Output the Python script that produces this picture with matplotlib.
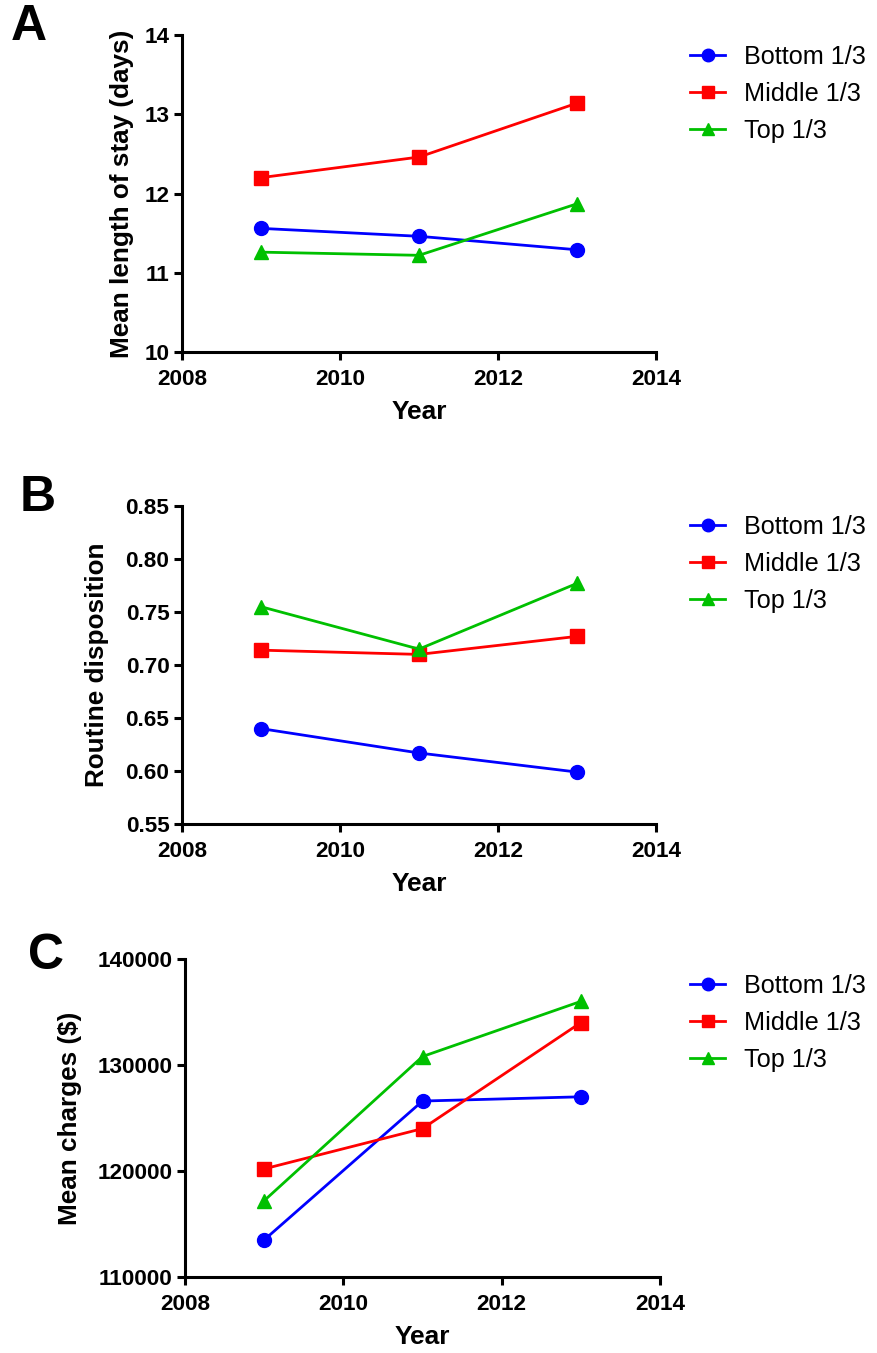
import matplotlib
matplotlib.use('Agg')
import matplotlib.pyplot as plt
from matplotlib.ticker import FormatStrFormatter

plt.rcParams['font.family'] = ['Liberation Sans', 'DejaVu Sans']

years = [2009, 2011, 2013]
groups = ['Bottom 1/3', 'Middle 1/3', 'Top 1/3']

# panel A: mean length of stay (days)
los_bottom = [11.56, 11.46, 11.29]
los_middle = [12.20, 12.46, 13.14]
los_top = [11.26, 11.22, 11.87]

# panel B: routine disposition
rd_bottom = [0.640, 0.617, 0.599]
rd_middle = [0.714, 0.710, 0.727]
rd_top = [0.755, 0.715, 0.777]

# panel C: mean charges ($)
mc_bottom = [113500, 126600, 127000]
mc_middle = [120200, 124000, 134000]
mc_top = [117200, 130800, 136000]

colors = ['#0000FF', '#FF0000', '#00C000']
markers = ['o', 's', '^']

W, H = 877, 1353
fig = plt.figure(figsize=(W / 100, H / 100), dpi=100)


def fx(px):
    return px / W


def fy(py):
    return 1 - py / H


panels = [
    dict(letter='A', data=[los_bottom, los_middle, los_top], ylim=(10, 14),
         yticks=[10, 11, 12, 13, 14], fmt='%d', ylabel='Mean length of stay (days)',
         box=(182, 35, 656, 352), ylab_x=-0.127, letter_xy=(29, 27),
         leg_xy=(690, 45)),
    dict(letter='B', data=[rd_bottom, rd_middle, rd_top], ylim=(0.55, 0.85),
         yticks=[0.55, 0.60, 0.65, 0.70, 0.75, 0.80, 0.85], fmt='%.2f',
         ylabel='Routine disposition', box=(182, 506, 656, 824), ylab_x=-0.179,
         letter_xy=(38, 498), leg_xy=(690, 515)),
    dict(letter='C', data=[mc_bottom, mc_middle, mc_top], ylim=(110000, 140000),
         yticks=[110000, 120000, 130000, 140000], fmt='%d', ylabel='Mean charges ($)',
         box=(185, 959, 660, 1277), ylab_x=-0.242, letter_xy=(46, 956),
         leg_xy=(690, 974)),
]

for p in panels:
    x0, y0, x1, y1 = p['box']
    ax = fig.add_axes([fx(x0), fy(y1), fx(x1 - x0), (y1 - y0) / H])
    handles = []
    for vals, c, m, lab in zip(p['data'], colors, markers, groups):
        h, = ax.plot(years, vals, color=c, marker=m, markersize=10, linewidth=2.0,
                     label=lab, clip_on=False)
        handles.append(h)
    ax.set_xlim(2008, 2014)
    ax.set_ylim(*p['ylim'])
    ax.set_xticks([2008, 2010, 2012, 2014])
    ax.set_yticks(p['yticks'])
    ax.yaxis.set_major_formatter(FormatStrFormatter(p['fmt']))
    for s in ['top', 'right']:
        ax.spines[s].set_visible(False)
    for s in ['left', 'bottom']:
        ax.spines[s].set_linewidth(2.2)
    ax.tick_params(width=2.2, length=6, labelsize=16.2)
    ax.tick_params(axis='x', pad=6)
    ax.tick_params(axis='y', pad=3)
    for t in ax.get_xticklabels() + ax.get_yticklabels():
        t.set_fontweight('bold')
    ax.set_ylabel(p['ylabel'], fontsize=18.8, fontweight='bold')
    ax.yaxis.set_label_coords(p['ylab_x'], 0.5)
    ax.yaxis.label.set_va('center')
    ax.set_xlabel('Year', fontsize=19, fontweight='bold')
    ax.xaxis.set_label_coords(0.5, -0.19)
    ax.xaxis.label.set_va('center')
    fig.text(fx(p['letter_xy'][0]), fy(p['letter_xy'][1]), p['letter'],
             fontsize=36, fontweight='bold', ha='center', va='center')
    fig.legend(handles=handles, loc='upper left',
               bbox_to_anchor=(fx(p['leg_xy'][0]), fy(p['leg_xy'][1])),
               frameon=False, fontsize=18.2, handlelength=1.4, handletextpad=0.75,
               labelspacing=0.52, borderpad=0, borderaxespad=0, markerscale=0.9)

fig.savefig('out.png', dpi=100, facecolor='white')
